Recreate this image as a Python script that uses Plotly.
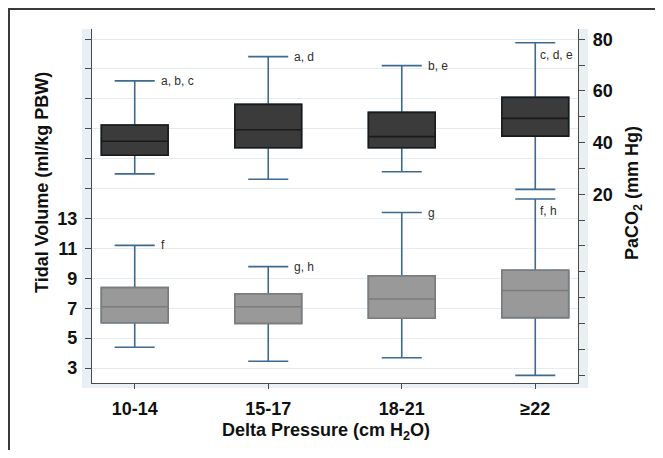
import plotly.graph_objects as go

# ---- data ----
categories = ["10-14", "15-17", "18-21", "\u226522"]

# PaCO2 (mm Hg) – right axis, upper (dark) boxes
paco2_lower = [27.9, 25.8, 28.7, 21.9]
paco2_q1 = [35.1, 38.0, 38.0, 42.5]
paco2_median = [40.5, 45.0, 42.3, 49.4]
paco2_q3 = [46.8, 54.8, 51.7, 57.5]
paco2_upper = [63.9, 73.3, 69.8, 78.7]
paco2_letters = ["a, b, c", "a, d", "b, e", "c, d, e"]

# Tidal volume (ml/kg PBW) – left axis, lower (grey) boxes
tv_lower = [4.39, 3.45, 3.69, 2.51]
tv_q1 = [6.03, 5.99, 6.33, 6.37]
tv_median = [7.1, 7.1, 7.62, 8.18]
tv_q3 = [8.38, 7.96, 9.16, 9.54]
tv_upper = [11.2, 9.78, 13.4, 14.3]
tv_letters = ["f", "g, h", "g", "f, h"]

left_tick_vals = [3, 5, 7, 9, 11, 13]
left_minor_vals = [15, 17, 19, 21, 23, 25]
right_tick_vals = [20, 40, 60, 80]
right_minor_vals = [-50, -40, -30, -20, -10, 0, 10, 30, 50, 70]

# ---- style ----
FONT = "Liberation Sans, Arial, sans-serif"
WHISKER = "#3d6a8e"
AXIS = "#4a4a4a"
GRID = "#e4ecf0"
BAND = "#e8f0f5"

# the page body has an 8px margin: work in absolute window pixels
OFF = 8
W, H = 663 - 2 * OFF, 458 - 2 * OFF
PL, PT, PR, PB = 92, 29, 578, 383          # plot area in window pixels
ML, MT = PL - OFF, PT - OFF
MR, MB = W - (PR - OFF), H - (PB - OFF)
PW, PH = PR - PL, PB - PT


def px(x):
    return (x - PL) / PW


def py(y):
    return (PB - y) / PH


fig = go.Figure()

BOXW = 0.5


def add_box(lower, q1, med, q3, upper, fill, edge, yaxis):
    # full box with whiskers (whisker colour)
    fig.add_trace(go.Box(
        x=categories, q1=q1, median=med, q3=q3,
        lowerfence=lower, upperfence=upper,
        fillcolor=fill, line=dict(color=WHISKER, width=1.6),
        whiskerwidth=0.6, width=BOXW, yaxis=yaxis,
        boxpoints=False, showlegend=False, hoverinfo="skip"))
    # box body re-drawn with its own edge colour
    fig.add_trace(go.Box(
        x=categories, q1=q1, median=med, q3=q3,
        lowerfence=q1, upperfence=q3,
        fillcolor=fill, line=dict(color=edge, width=1.6),
        whiskerwidth=0, width=BOXW, yaxis=yaxis,
        boxpoints=False, showlegend=False, hoverinfo="skip"))


add_box(tv_lower, tv_q1, tv_median, tv_q3, tv_upper, "#999999", "#7c7c7c", "y")
add_box(paco2_lower, paco2_q1, paco2_median, paco2_q3, paco2_upper, "#3b3b3b", "#1a1a1a", "y2")

annotations = []
cap_half = 0.6 * BOXW / 2
letter_font = dict(family=FONT, size=12, color="#2e2e2e")
for yref, letters, uppers in (("y2", paco2_letters, paco2_upper), ("y", tv_letters, tv_upper)):
    for i, (lab, up) in enumerate(zip(letters, uppers)):
        if i < 3:
            annotations.append(dict(x=i + cap_half, y=up, xref="x", yref=yref, text=lab,
                                    showarrow=False, xanchor="left", yanchor="middle", xshift=4,
                                    font=letter_font))
        else:
            annotations.append(dict(x=i, y=up, xref="x", yref=yref, text=lab,
                                    showarrow=False, xanchor="left", yanchor="top", xshift=3, yshift=-3,
                                    font=letter_font))

title_font = dict(family=FONT, size=18, color="#111111", weight="bold")
annotations += [
    dict(x=px(42), y=py(183), xref="paper", yref="paper", text="Tidal Volume (ml/kg PBW)",
         textangle=-90, showarrow=False, xanchor="center", yanchor="middle", font=title_font),
    dict(x=px(634), y=py(193), xref="paper", yref="paper", text="PaCO<sub>2</sub> (mm Hg)",
         textangle=-90, showarrow=False, xanchor="center", yanchor="middle", font=title_font),
    dict(x=px(326), y=py(431), xref="paper", yref="paper", text="Delta Pressure (cm H<sub>2</sub>O)",
         showarrow=False, xanchor="center", yanchor="middle", font=title_font),
]

shapes = [
    # light band around the plot region
    dict(type="rect", xref="paper", yref="paper", x0=px(82), x1=px(588), y0=py(388), y1=py(29),
         fillcolor=BAND, line=dict(width=0), layer="below"),
    dict(type="rect", xref="paper", yref="paper", x0=px(92), x1=px(578), y0=py(383), y1=py(29),
         fillcolor="white", line=dict(width=0), layer="below"),
    # outer frame (left and top edges)
    dict(type="line", xref="paper", yref="paper", x0=px(9), x1=px(9), y0=py(8), y1=py(480),
         line=dict(color="#3a3a3a", width=2)),
    dict(type="line", xref="paper", yref="paper", x0=px(8), x1=px(700), y0=py(9), y1=py(9),
         line=dict(color="#3a3a3a", width=2)),
]

tick_font = dict(family=FONT, size=18, color="#111111", weight="bold")

fig.update_layout(
    width=W, height=H,
    margin=dict(l=ML, r=MR, t=MT, b=MB, pad=0),
    paper_bgcolor="white", plot_bgcolor="rgba(0,0,0,0)",
    boxmode="overlay", showlegend=False,
    annotations=annotations, shapes=shapes,
    xaxis=dict(type="category", range=[-0.32, 3.32], showgrid=False, zeroline=False,
               showline=True, linecolor=AXIS, linewidth=1.2,
               ticks="outside", ticklen=5, tickcolor=AXIS, tickwidth=1,
               tickfont=tick_font, ticklabelstandoff=4),
    yaxis=dict(range=[2.0, 25.67], tickmode="array", tickvals=left_tick_vals,
               showgrid=True, gridcolor=GRID, gridwidth=1, zeroline=False,
               showline=True, linecolor=AXIS, linewidth=1.2,
               ticks="outside", ticklen=6, tickcolor=AXIS, tickwidth=1,
               tickfont=tick_font, ticklabelstandoff=4,
               minor=dict(tickmode="array", tickvals=left_minor_vals, ticks="outside",
                          ticklen=6, tickcolor=AXIS, tickwidth=1,
                          showgrid=True, gridcolor=GRID, gridwidth=1)),
    yaxis2=dict(range=[-53.1, 84.0], overlaying="y", side="right", tickmode="array",
                tickvals=right_tick_vals,
                showgrid=False, zeroline=False,
                showline=True, linecolor=AXIS, linewidth=1.2,
                ticks="outside", ticklen=6, tickcolor=AXIS, tickwidth=1,
                tickfont=tick_font, ticklabelstandoff=4,
                minor=dict(tickmode="array", tickvals=right_minor_vals, ticks="outside",
                           ticklen=6, tickcolor=AXIS, tickwidth=1, showgrid=False)),
)

fig.write_html("out.html")
